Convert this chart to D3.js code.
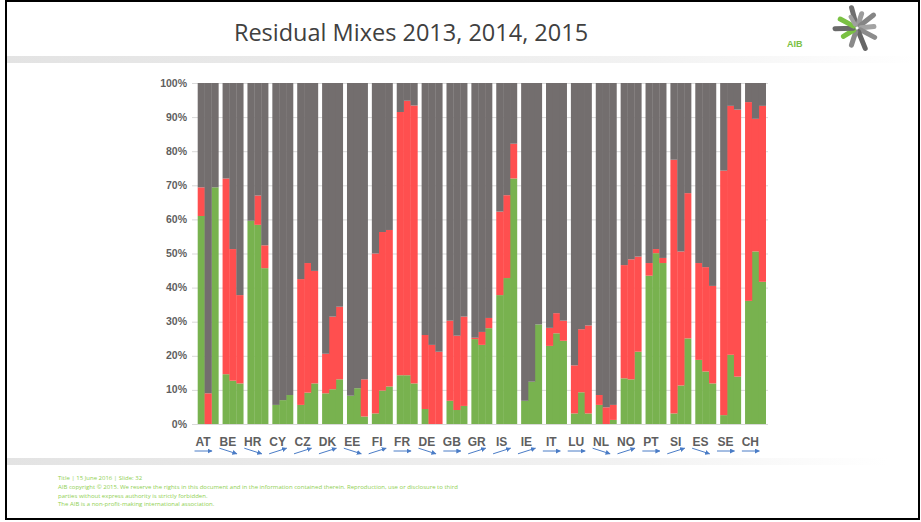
<!DOCTYPE html>
<html>
<head>
    <title>Residual Mixes 2013, 2014, 2015</title>
    <script src="https://cdnjs.cloudflare.com/ajax/libs/d3/7.8.5/d3.min.js"></script>
    <style>
        body { margin: 0; background: #fff; }
        .ylab, .xlab { font-family: "Liberation Sans", Arial, sans-serif; font-weight: bold; fill: #5f5f5f; }
        .grid line { stroke: #d9d9d9; stroke-width: 1; }
        .grid .domain { display: none; }
        .footer { font-family: "Open Sans", "Noto Sans", sans-serif; font-size: 6px; fill: #8fd052; }
    </style>
</head>
<body>
    <div id="chart"></div>
    <script>
        // Countries and years
        const countries = ['AT','BE','HR','CY','CZ','DK','EE','FI','FR','DE','GB','GR','IS','IE','IT','LU','NL','NO','PT','SI','ES','SE','CH'];
        const years = ['2013', '2014', '2015'];

        // Shares in % (green = renewable, red = nuclear, grey = fossil)
        const renewable2013 = [61.0,14.6,59.6,5.6,5.6,9.0,8.3,3.1,14.3,4.4,6.8,24.9,37.8,6.8,22.9,3.1,5.6,13.4,43.5,3.1,18.8,2.6,36.1];
        const renewable2014 = [0.0,12.7,58.4,7.0,9.2,10.2,10.5,9.8,14.3,0.0,4.1,23.2,42.8,12.4,26.6,9.3,0.0,13.1,50.1,11.3,15.4,20.3,50.6];
        const renewable2015 = [69.4,11.9,45.7,8.5,11.9,13.1,2.2,11.0,11.9,0.0,5.3,28.1,72.0,29.2,24.4,3.1,1.2,21.2,47.2,25.1,11.9,13.9,41.7];

        const nuclear2013 = [8.4,57.4,0.0,0.0,36.9,11.6,0.0,46.9,77.2,21.7,23.5,0.4,24.5,0.0,5.3,14.1,2.9,33.2,3.7,74.4,28.4,71.7,58.3];
        const nuclear2014 = [9.0,38.6,8.6,0.0,38.0,21.3,0.0,46.5,80.5,23.2,21.8,3.8,24.3,0.0,5.9,18.5,4.9,35.2,1.2,39.3,30.6,73.0,38.9];
        const nuclear2015 = [0.0,25.9,6.7,0.0,33.0,21.3,10.9,45.9,81.5,21.2,26.2,3.0,10.2,0.0,5.9,25.8,4.4,27.9,1.5,42.6,28.6,78.3,51.6];

        const fossil2013 = [30.6,28.0,40.4,94.4,57.5,79.4,91.7,50.0,8.5,73.9,69.7,74.7,37.7,93.2,71.8,82.8,91.5,53.4,52.8,22.5,52.8,25.7,5.6];
        const fossil2014 = [91.0,48.7,33.0,93.0,52.8,68.5,89.5,43.7,5.2,76.8,74.1,73.0,32.9,87.6,67.5,72.2,95.1,51.7,48.7,49.4,54.0,6.7,10.5];
        const fossil2015 = [30.6,62.2,47.6,91.5,55.1,65.6,86.9,43.1,6.6,78.8,68.5,68.9,17.8,70.8,69.7,71.1,94.4,50.9,51.3,32.3,59.5,7.8,6.7];

        // Trend arrows under the labels: 1 up, 0 flat, -1 down
        const trends = [0,-1,-1,1,1,1,-1,1,0,-1,0,1,1,1,0,0,-1,1,0,1,-1,0,0];

        const yTicks = [0,10,20,30,40,50,60,70,80,90,100];

        const keys = ['renewable', 'nuclear', 'fossil'];
        const colors = { renewable: '#78b24f', nuclear: '#ff4f4f', fossil: '#736e6e' };

        const byYear = {
            '2013': [renewable2013, nuclear2013, fossil2013],
            '2014': [renewable2014, nuclear2014, fossil2014],
            '2015': [renewable2015, nuclear2015, fossil2015]
        };
        const rows = [];
        countries.forEach((c, i) => {
            years.forEach(y => {
                const v = byYear[y];
                rows.push({ country: c, year: y, renewable: v[0][i], nuclear: v[1][i], fossil: v[2][i] });
            });
        });

        const W = 921, H = 522;
        const svg = d3.select('#chart').append('svg')
            .attr('width', W).attr('height', H);

        // Slide frame
        const defs = svg.append('defs');
        const grad = defs.append('linearGradient').attr('id', 'band');
        grad.append('stop').attr('offset', '0%').attr('stop-color', '#e3e3e3');
        grad.append('stop').attr('offset', '70%').attr('stop-color', '#f2f2f2');
        grad.append('stop').attr('offset', '100%').attr('stop-color', '#ffffff');

        svg.append('rect').attr('x', 0).attr('y', 0).attr('width', W).attr('height', H).attr('fill', '#fff');
        svg.append('rect').attr('x', 7).attr('y', 56).attr('width', 912).attr('height', 7).attr('fill', 'url(#band)');
        svg.append('rect').attr('x', 7).attr('y', 458).attr('width', 880).attr('height', 7).attr('fill', 'url(#band)');

        svg.append('text')
            .attr('x', 411).attr('y', 41)
            .attr('text-anchor', 'middle')
            .style('font-family', '"Open Sans", Lato, sans-serif')
            .style('font-size', '23.5px')
            .style('fill', '#404040')
            .text('Residual Mixes 2013, 2014, 2015');

        // AIB logo
        const logo = svg.append('g').attr('transform', 'translate(857,28)');
        const spokes = [
            { a: -105, r: 21, c: '#6f6f6f', w: 5 }, { a: -72, r: 15, c: '#9c9c9c', w: 5 },
            { a: -38, r: 21, c: '#858585', w: 5 }, { a: -5, r: 17, c: '#a3a3a3', w: 5 },
            { a: 28, r: 20, c: '#8c8c8c', w: 5 }, { a: 68, r: 22, c: '#666666', w: 5 },
            { a: 108, r: 18, c: '#8a8a8a', w: 5 }, { a: 148, r: 16, c: '#7ac143', w: 5 },
            { a: 178, r: 22, c: '#6a6a6a', w: 5 }, { a: 208, r: 19, c: '#7ac143', w: 5 },
            { a: 240, r: 13, c: '#a0a0a0', w: 4 }
        ];
        logo.selectAll('line').data(spokes).join('line')
            .attr('x1', d => 4 * Math.cos(d.a * Math.PI / 180))
            .attr('y1', d => 4 * Math.sin(d.a * Math.PI / 180))
            .attr('x2', d => d.r * Math.cos(d.a * Math.PI / 180))
            .attr('y2', d => d.r * Math.sin(d.a * Math.PI / 180))
            .attr('stroke', d => d.c).attr('stroke-width', d => d.w).attr('stroke-linecap', 'round');
        svg.append('text').attr('x', 787).attr('y', 47)
            .style('font-family', '"Liberation Sans", Arial, sans-serif')
            .style('font-size', '9px').style('font-weight', 'bold').style('fill', '#7ac143')
            .text('AIB');

        // Chart
        const x0 = d3.scaleBand().domain(countries).range([197.7, 765.7]).paddingInner(0.17).paddingOuter(0);
        const x1 = d3.scaleBand().domain(years).range([0, x0.bandwidth()]);
        const y = d3.scaleLinear().domain([0, 100]).range([424, 83]);

        svg.append('g').attr('class', 'grid')
            .attr('transform', 'translate(192,0)')
            .call(d3.axisLeft(y).tickValues(yTicks).tickSize(-576).tickFormat(''));

        const stack = d3.stack().keys(keys)(rows);
        svg.append('g').selectAll('g').data(stack).join('g')
            .attr('fill', d => colors[d.key])
            .selectAll('rect').data(d => d).join('rect')
            .attr('x', d => x0(d.data.country) + x1(d.data.year))
            .attr('width', x1.bandwidth() + 0.3)
            .attr('y', d => y(d[1]))
            .attr('height', d => y(d[0]) - y(d[1]));

        svg.append('g').selectAll('text').data(yTicks).join('text')
            .attr('class', 'ylab')
            .attr('x', 187).attr('y', d => y(d) + 3.5)
            .attr('text-anchor', 'end')
            .style('font-size', '10.5px')
            .text(d => d + '%');

        const labelX = c => x0(c) + x0.bandwidth() / 2 - 5;
        svg.append('g').selectAll('text').data(countries).join('text')
            .attr('class', 'xlab')
            .attr('x', labelX).attr('y', 445.5)
            .attr('text-anchor', 'middle')
            .style('font-size', '12px')
            .text(d => d);

        // Trend arrows
        const marker = defs.append('marker').attr('id', 'arrow')
            .attr('viewBox', '0 0 10 10').attr('refX', 9).attr('refY', 5)
            .attr('markerWidth', 5).attr('markerHeight', 5).attr('orient', 'auto');
        marker.append('path').attr('d', 'M0,0L10,5L0,10z').attr('fill', '#4a7cc6');

        svg.append('g').selectAll('line').data(countries).join('line')
            .attr('x1', c => labelX(c) - 8.5)
            .attr('x2', c => labelX(c) + 9)
            .attr('y1', (c, i) => 451 + trends[i] * 2.8)
            .attr('y2', (c, i) => 451 - trends[i] * 2.8)
            .attr('stroke', '#4a7cc6').attr('stroke-width', 1)
            .attr('marker-end', 'url(#arrow)');

        // Footer
        const footer = [
            'Title | 15 June 2016 | Slide: 32',
            'AIB copyright \u00a9 2015. We reserve the rights in this document and in the information contained therein. Reproduction, use or disclosure to third',
            'parties without express authority is strictly forbidden.',
            'The AIB is a non-profit-making international association.'
        ];
        svg.append('g').selectAll('text').data(footer).join('text')
            .attr('class', 'footer')
            .attr('x', 58).attr('y', (d, i) => 480 + i * 8.8)
            .text(d => d);

        // Outer border
        svg.append('rect').attr('x', 6).attr('y', 1).attr('width', 913).attr('height', 518)
            .attr('fill', 'none').attr('stroke', '#000').attr('stroke-width', 2);
    </script>
</body>
</html>
